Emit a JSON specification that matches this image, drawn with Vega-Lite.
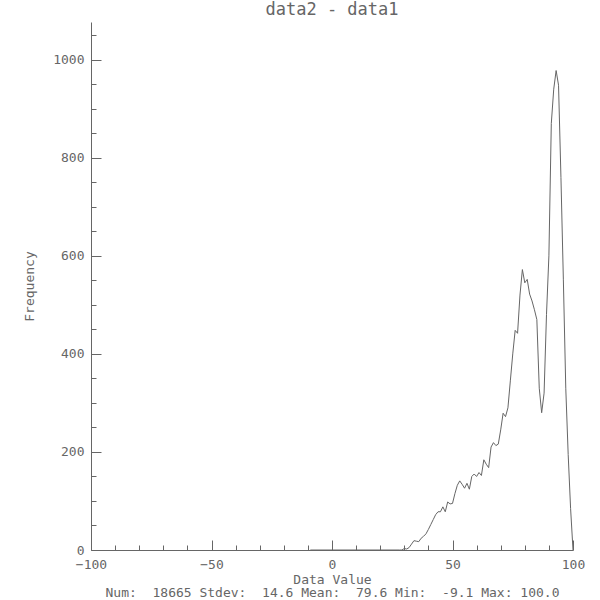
{
  "$schema": "https://vega.github.io/schema/vega-lite/v6.json",
  "width": 482,
  "height": 528,
  "autosize": {"type": "none"},
  "padding": {"left": 91, "top": 22, "right": 27, "bottom": 50},
  "background": "white",
  "title": {"text": "data2 - data1", "offset": 3, "fontSize": 17, "font": "DejaVu Sans Mono", "fontWeight": "normal", "color": "#666666"},
  "config": {
    "view": {"stroke": null},
    "axis": {
      "grid": false,
      "domainColor": "#666666",
      "tickColor": "#666666",
      "labelColor": "#666666",
      "titleColor": "#666666",
      "labelFont": "DejaVu Sans Mono",
      "titleFont": "DejaVu Sans Mono",
      "labelFontSize": 13,
      "titleFontSize": 13,
      "titleFontWeight": "normal",
      "labelFlush": false,
      "labelOverlap": false
    }
  },
  "data": {
    "values": [
      {"bin": -9, "frequency": 0},
      {"bin": 28, "frequency": 0},
      {"bin": 29, "frequency": 0},
      {"bin": 30, "frequency": 3},
      {"bin": 31, "frequency": 2},
      {"bin": 32, "frequency": 5},
      {"bin": 33, "frequency": 12},
      {"bin": 34, "frequency": 19},
      {"bin": 35, "frequency": 18},
      {"bin": 36, "frequency": 17},
      {"bin": 37, "frequency": 24},
      {"bin": 38, "frequency": 28},
      {"bin": 39, "frequency": 33},
      {"bin": 40, "frequency": 42},
      {"bin": 41, "frequency": 52},
      {"bin": 42, "frequency": 62},
      {"bin": 43, "frequency": 72},
      {"bin": 44, "frequency": 78},
      {"bin": 45, "frequency": 78},
      {"bin": 46, "frequency": 88},
      {"bin": 47, "frequency": 78},
      {"bin": 48, "frequency": 98},
      {"bin": 49, "frequency": 94},
      {"bin": 50, "frequency": 95},
      {"bin": 51, "frequency": 115},
      {"bin": 52, "frequency": 132},
      {"bin": 53, "frequency": 141},
      {"bin": 54, "frequency": 134},
      {"bin": 55, "frequency": 126},
      {"bin": 56, "frequency": 136},
      {"bin": 57, "frequency": 124},
      {"bin": 58, "frequency": 150},
      {"bin": 59, "frequency": 155},
      {"bin": 60, "frequency": 150},
      {"bin": 61, "frequency": 158},
      {"bin": 62, "frequency": 152},
      {"bin": 63, "frequency": 184},
      {"bin": 64, "frequency": 175},
      {"bin": 65, "frequency": 168},
      {"bin": 66, "frequency": 210},
      {"bin": 67, "frequency": 219},
      {"bin": 68, "frequency": 213},
      {"bin": 69, "frequency": 216},
      {"bin": 70, "frequency": 245},
      {"bin": 71, "frequency": 279},
      {"bin": 72, "frequency": 272},
      {"bin": 73, "frequency": 290},
      {"bin": 74, "frequency": 345},
      {"bin": 75, "frequency": 400},
      {"bin": 76, "frequency": 448},
      {"bin": 77, "frequency": 442},
      {"bin": 78, "frequency": 520},
      {"bin": 79, "frequency": 572},
      {"bin": 80, "frequency": 545},
      {"bin": 81, "frequency": 552},
      {"bin": 82, "frequency": 522},
      {"bin": 83, "frequency": 508},
      {"bin": 84, "frequency": 490},
      {"bin": 85, "frequency": 470},
      {"bin": 86, "frequency": 330},
      {"bin": 87, "frequency": 280},
      {"bin": 88, "frequency": 320},
      {"bin": 89, "frequency": 480},
      {"bin": 90, "frequency": 600},
      {"bin": 91, "frequency": 870},
      {"bin": 92, "frequency": 940},
      {"bin": 93, "frequency": 978},
      {"bin": 94, "frequency": 948},
      {"bin": 95, "frequency": 760},
      {"bin": 96, "frequency": 551},
      {"bin": 97, "frequency": 330},
      {"bin": 98, "frequency": 195},
      {"bin": 99, "frequency": 85},
      {"bin": 100, "frequency": 0}
    ]
  },
  "resolve": {"axis": {"x": "independent", "y": "independent"}},
  "layer": [
    {
      "mark": {"type": "line", "color": "#666666", "strokeWidth": 1},
      "encoding": {
        "x": {
          "field": "bin",
          "type": "quantitative",
          "scale": {"domain": [-100, 100], "nice": false, "zero": false},
          "axis": {
            "orient": "bottom",
            "values": [-100, -50, 0, 50, 100],
            "format": "d",
            "tickSize": -10,
            "labelPadding": 18,
            "title": ["Data Value", "Num:\u00a0 18665 Stdev:\u00a0 14.6 Mean:\u00a0 79.6 Min:\u00a0 -9.1 Max: 100.0"],
            "titlePadding": 2,
            "titleLineHeight": 13.5
          }
        },
        "y": {
          "field": "frequency",
          "type": "quantitative",
          "scale": {"domain": [0, 1077], "nice": false, "zero": true},
          "axis": {
            "orient": "left",
            "values": [0, 200, 400, 600, 800, 1000],
            "format": "d",
            "tickSize": -10,
            "labelPadding": 17,
            "labelBaseline": "middle",
            "title": "Frequency",
            "titlePadding": 16
          }
        }
      }
    },
    {
      "mark": {"type": "line", "color": "#666666", "strokeWidth": 1, "opacity": 0},
      "encoding": {
        "x": {
          "field": "bin",
          "type": "quantitative",
          "scale": {"domain": [-100, 100], "nice": false, "zero": false},
          "axis": {
            "orient": "bottom",
            "values": [-90, -80, -70, -60, -40, -30, -20, -10, 10, 20, 30, 40, 60, 70, 80, 90],
            "tickSize": -5,
            "labels": false,
            "domain": false,
            "title": null
          }
        },
        "y": {
          "field": "frequency",
          "type": "quantitative",
          "scale": {"domain": [0, 1077], "nice": false, "zero": true},
          "axis": {
            "orient": "left",
            "values": [50, 100, 150, 250, 300, 350, 450, 500, 550, 650, 700, 750, 850, 900, 950, 1050],
            "tickSize": -5,
            "labels": false,
            "domain": false,
            "title": null
          }
        }
      }
    }
  ]
}
